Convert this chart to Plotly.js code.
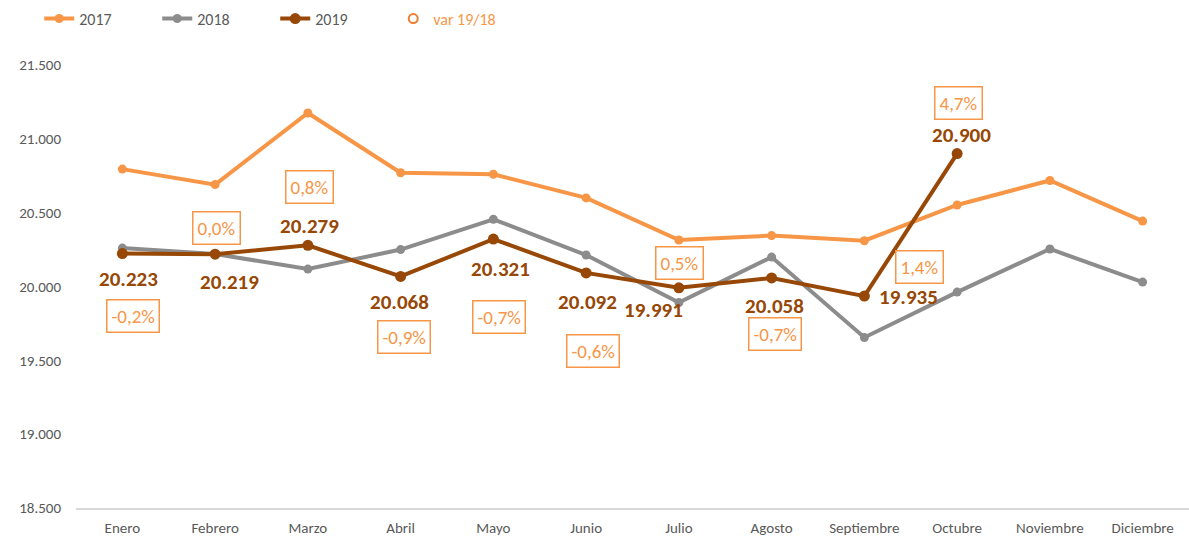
<!DOCTYPE html>
<html><head><meta charset="utf-8">
<script src="https://cdn.plot.ly/plotly-3.0.1.min.js"></script>
<style>body{margin:0;background:#fff}#c{width:1189px;height:539px}</style>
</head><body><div id="c"></div>
<script>
const months = ['Enero','Febrero','Marzo','Abril','Mayo','Junio','Julio','Agosto','Septiembre','Octubre','Noviembre','Diciembre'];
const y2017 = [20795, 20690, 21175, 20770, 20760, 20600, 20315, 20345, 20310, 20552, 20718, 20443];
const y2018 = [20260, 20220, 20118, 20250, 20455, 20213, 19892, 20199, 19655, 19962, 20254, 20030];
const y2019 = [20223, 20219, 20279, 20068, 20321, 20092, 19991, 20058, 19935, 20900, null, null];
const var1918 = [-0.2, 0.0, 0.8, -0.9, -0.7, -0.6, 0.5, -0.7, 1.4, 4.7, null, null];

// label offsets (px) relative to the 2019 point: [dx, dy(down)]
const valOff = [[6,25],[14,28],[2,-19],[-1,26],[7,30],[1,29],[-25,22],[3,28],[44,1],[4,-19]];
const varOff = [[11,62],[1,-26],[2,-58],[3,61],[6,78],[7,78],[1,-25],[3,56],[55,-29],[1,-51]];

const C17 = '#F79646', C18 = '#8C8C8C', C19 = '#974706';
const FONT = 'Carlito, Calibri, Lato, "Open Sans", sans-serif';

function fmtThousands(v){ return String(v).replace(/\B(?=(\d{3})+(?!\d))/g,'.'); }
function fmtPct(v){ return v.toFixed(1).replace('.',',') + '%'; }

const traces = [
  {x: months, y: y2017, name: '2017', mode: 'lines+markers', line: {color: C17, width: 4}, marker: {color: C17, size: 9}},
  {x: months, y: y2018, name: '2018', mode: 'lines+markers', line: {color: C18, width: 4}, marker: {color: C18, size: 9}},
  {x: months, y: y2019, name: '2019', mode: 'lines+markers', line: {color: C19, width: 4}, marker: {color: C19, size: 11}},
  {x: months, y: var1918, name: '<span style="color:#F79646">var 19/18</span>', mode: 'markers', yaxis: 'y2',
   marker: {color: 'rgba(0,0,0,0)', size: 9, line: {color: '#ED7D31', width: 2}}}
];

const annotations = [];
y2019.forEach((v, i) => {
  if (v === null) return;
  annotations.push({x: months[i], y: v, xref: 'x', yref: 'y', showarrow: false,
    text: '<b>' + fmtThousands(v) + '</b>', font: {family: FONT, size: 21, color: C19},
    xshift: valOff[i][0], yshift: -valOff[i][1]});
  annotations.push({x: months[i], y: v, xref: 'x', yref: 'y', showarrow: false,
    text: fmtPct(var1918[i]), font: {family: FONT, size: 19, color: C17},
    bordercolor: C17, borderwidth: 1.5, borderpad: 4, bgcolor: '#fff',
    xshift: varOff[i][0], yshift: -varOff[i][1]});
});

const layout = {
  width: 1189, height: 539,
  margin: {l: 76, r: 0, t: 65, b: 31},
  paper_bgcolor: '#fff', plot_bgcolor: '#fff',
  separators: ',.',
  font: {family: FONT, color: '#595959', size: 15},
  showlegend: true,
  legend: {orientation: 'h', x: 0.033, xref: 'container', y: 0.997, yref: 'container', yanchor: 'top',
    xanchor: 'left', entrywidth: 73, font: {size: 16, color: '#595959'}, traceorder: 'normal', itemwidth: 30},
  xaxis: {type: 'category', range: [-0.5, 11.5], showgrid: false, zeroline: false,
    showline: true, linecolor: '#D9D9D9', linewidth: 1.5, ticks: '', tickfont: {size: 15, color: '#595959'},
    ticklabelstandoff: 5},
  yaxis: {range: [18500, 21500], dtick: 500, tickformat: ',.0f', showgrid: false, zeroline: false,
    showline: false, ticks: '', tickfont: {size: 15, color: '#595959'}, ticklabelstandoff: 14},
  yaxis2: {overlaying: 'y', range: [100, 200], visible: false},
  annotations: annotations
};

Plotly.newPlot('c', traces, layout, {displayModeBar: false, staticPlot: true});
</script></body></html>
